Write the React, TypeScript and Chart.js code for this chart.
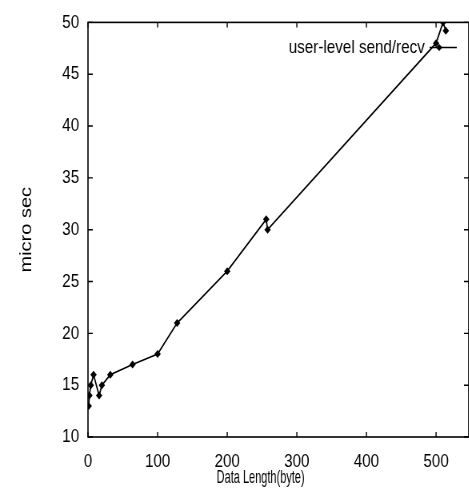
import { useEffect, useRef } from "react";
import { Chart, registerables } from "chart.js";

Chart.register(...registerables);

// ---- data ----
const dataLengths = [1, 2, 4, 8, 16, 20, 32, 64, 100, 128, 200, 256, 258, 500, 510, 514];
const microSec = [13, 14, 15, 16, 14, 15, 16, 17, 18, 21, 26, 31, 30, 48, 50, 49.2];
const xTickValues = [0, 100, 200, 300, 400, 500];
const yTickValues = [10, 15, 20, 25, 30, 35, 40, 45, 50];
const seriesLabel = "user-level send/recv";
const xTitle = "Data Length(byte)";
const yTitle = "micro sec";

const SANS = '"Liberation Sans", Arial, Helvetica, sans-serif';
// the reference is horizontally condensed; the canvas is drawn wider and squeezed
const SQUEEZE = 0.8;

const framePlugin = {
  id: "gnuFrame",
  afterDatasetsDraw(chart: any) {
    const { ctx, chartArea, scales } = chart;
    const { left, right, top, bottom } = chartArea;
    const x = scales.x;
    const y = scales.y;
    ctx.save();
    ctx.strokeStyle = "#000";
    ctx.lineWidth = 1.6;
    ctx.strokeRect(left, top, right - left, bottom - top);
    ctx.lineWidth = 1.4;
    ctx.beginPath();
    x.ticks.forEach((t: any) => {
      const px = x.getPixelForValue(t.value);
      ctx.moveTo(px, bottom);
      ctx.lineTo(px, bottom - 5);
      ctx.moveTo(px, top);
      ctx.lineTo(px, top + 5);
    });
    y.ticks.forEach((t: any) => {
      const py = y.getPixelForValue(t.value);
      ctx.moveTo(left, py);
      ctx.lineTo(left + 6, py);
      ctx.moveTo(right, py);
      ctx.lineTo(right - 6, py);
    });
    ctx.stroke();

    // legend (gnuplot style key)
    const ly = top + 25;
    ctx.fillStyle = "#000";
    ctx.font = `19px ${SANS}`;
    ctx.textAlign = "right";
    ctx.textBaseline = "middle";
    ctx.fillText(seriesLabel, right - 55, ly);
    ctx.lineWidth = 1.5;
    ctx.beginPath();
    ctx.moveTo(right - 49, ly);
    ctx.lineTo(right - 15, ly);
    ctx.stroke();
    const mx = right - 37;
    ctx.beginPath();
    ctx.moveTo(mx, ly - 3.5);
    ctx.lineTo(mx + 4, ly);
    ctx.lineTo(mx, ly + 3.5);
    ctx.lineTo(mx - 4, ly);
    ctx.closePath();
    ctx.fill();

    // x axis title (narrower than the other texts in the reference)
    ctx.font = `19px ${SANS}`;
    ctx.textAlign = "center";
    ctx.textBaseline = "middle";
    const cx = x.getPixelForValue(248);
    const w = ctx.measureText(xTitle).width;
    const k = Math.min(1, 110 / w);
    ctx.translate(cx, bottom + 41);
    ctx.scale(k, 1);
    ctx.fillText(xTitle, 0, 0);
    ctx.restore();
  },
};

export default function App() {
  const ref = useRef<HTMLCanvasElement | null>(null);

  useEffect(() => {
    if (!ref.current) return;
    const points = dataLengths.map((d, i) => ({ x: d, y: microSec[i] }));
    const chart = new Chart(ref.current, {
      type: "line",
      data: {
        datasets: [
          {
            label: seriesLabel,
            data: points,
            borderColor: "#000",
            backgroundColor: "#000",
            borderWidth: 1.7,
            pointStyle: "rectRot",
            pointRadius: 4,
            pointBorderWidth: 0,
            tension: 0,
          },
        ],
      },
      options: {
        responsive: false,
        animation: false,
        devicePixelRatio: 1,
        layout: { padding: { top: 15, right: 2.5, left: 0, bottom: 0 } },
        plugins: {
          legend: { display: false },
          tooltip: { enabled: false },
        },
        scales: {
          x: {
            type: "linear",
            min: 0,
            max: 547,
            grid: { display: false, drawTicks: false },
            border: { display: false },
            afterBuildTicks: (scale: any) => {
              scale.ticks = xTickValues.map((v) => ({ value: v }));
            },
            afterFit: (scale: any) => {
              scale.height = 53;
            },
            ticks: {
              color: "#000",
              padding: 13,
              maxRotation: 0,
              font: { family: SANS, size: 19 },
            },
          },
          y: {
            min: 10,
            max: 50,
            grid: { display: false, drawTicks: false },
            border: { display: false },
            afterBuildTicks: (scale: any) => {
              scale.ticks = yTickValues.map((v) => ({ value: v }));
            },
            afterFit: (scale: any) => {
              scale.width = 110;
            },
            title: {
              display: true,
              text: yTitle,
              color: "#000",
              font: { family: SANS, size: 20 },
              padding: { top: 21, bottom: 0 },
            },
            ticks: {
              color: "#000",
              padding: 11,
              font: { family: SANS, size: 19 },
            },
          },
        },
      },
      plugins: [framePlugin],
    });
    return () => chart.destroy();
  }, []);

  return (
    <div
      style={{
        position: "absolute",
        left: 0,
        top: 0,
        width: 469,
        height: 490,
        overflow: "hidden",
        background: "#fff",
      }}
    >
      <canvas
        ref={ref}
        width={590}
        height={490}
        style={{ transform: `scaleX(${SQUEEZE})`, transformOrigin: "0 0", display: "block" }}
      />
    </div>
  );
}
